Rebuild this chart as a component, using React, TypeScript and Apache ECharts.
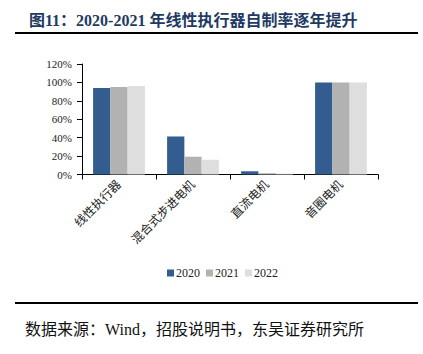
import React, { useEffect, useRef } from "react";
import * as echarts from "echarts";

const categories = ["线性执行器", "混合式步进电机", "直流电机", "音圈电机"];
const years = ["2020", "2021", "2022"];
const values2020 = [94, 41.3, 3.5, 100];
const values2021 = [95, 19.3, 1.4, 100];
const values2022 = [96, 16, 0.9, 100];
const yTicks = [0, 20, 40, 60, 80, 100, 120];
const colors = ["#335d8f", "#b2b2b2", "#dedede"];

const titleText = "图11：2020-2021 年线性执行器自制率逐年提升";
const sourceText = "数据来源：Wind，招股说明书，东吴证券研究所";

const serif = "'Liberation Serif', 'DejaVu Serif', 'Noto Sans CJK SC', serif";

export default function App() {
  const ref = useRef<HTMLDivElement>(null);
  useEffect(() => {
    if (!ref.current) return;
    const chart = echarts.init(ref.current, null, { renderer: "svg" });
    const seriesData = [values2020, values2021, values2022];
    chart.setOption({
      animation: false,
      backgroundColor: "#ffffff",
      title: {
        text: titleText,
        left: 24,
        top: 7,
        textStyle: {
          fontFamily: serif,
          fontWeight: "bold",
          fontSize: 16,
          color: "#1f3a63",
        },
      },
      graphic: [
        {
          type: "line",
          shape: { x1: 15, y1: 33, x2: 418, y2: 33 },
          style: { stroke: "#000", lineWidth: 2 },
        },
        {
          type: "line",
          shape: { x1: 15, y1: 303, x2: 418, y2: 303 },
          style: { stroke: "#000", lineWidth: 2 },
        },
        {
          type: "text",
          left: 25,
          top: 321,
          style: {
            text: sourceText,
            fontFamily: serif,
            fontSize: 16,
            fill: "#111",
          },
        },
      ],
      legend: {
        data: years,
        left: 162,
        top: 262,
        itemWidth: 7,
        itemHeight: 7,
        itemGap: 6,
        icon: "rect",
        textStyle: { fontFamily: serif, fontSize: 12, color: "#222", padding: [0, 0, 0, -3] },
      },
      grid: { left: 82, right: 45, top: 64, bottom: 179.5 },
      xAxis: {
        type: "category",
        data: categories,
        axisLine: { lineStyle: { color: "#000", width: 1 } },
        axisTick: { show: true, alignWithLabel: false, lineStyle: { color: "#000" }, length: 5 },
        axisLabel: {
          rotate: 45,
          fontFamily: serif,
          fontSize: 12,
          color: "#222",
          margin: 8,
          interval: 0,
        },
      },
      yAxis: {
        type: "value",
        min: 0,
        max: 120,
        interval: 20,
        axisLine: { show: true, lineStyle: { color: "#000", width: 1 } },
        axisTick: { show: true, lineStyle: { color: "#000" }, length: 5 },
        splitLine: { show: false },
        axisLabel: {
          formatter: (v: number) => (yTicks.includes(v) ? v + "%" : ""),
          fontFamily: serif,
          fontSize: 11,
          color: "#222",
          margin: 10,
        },
      },
      series: years.map((y, i) => ({
        name: y,
        type: "bar",
        data: seriesData[i],
        barGap: "0%",
        barCategoryGap: "30%",
        itemStyle: { color: colors[i] },
      })),
    });
    return () => chart.dispose();
  }, []);
  return (
    <div
      ref={ref}
      style={{ position: "fixed", left: 0, top: 0, width: 423, height: 354 }}
    />
  );
}
